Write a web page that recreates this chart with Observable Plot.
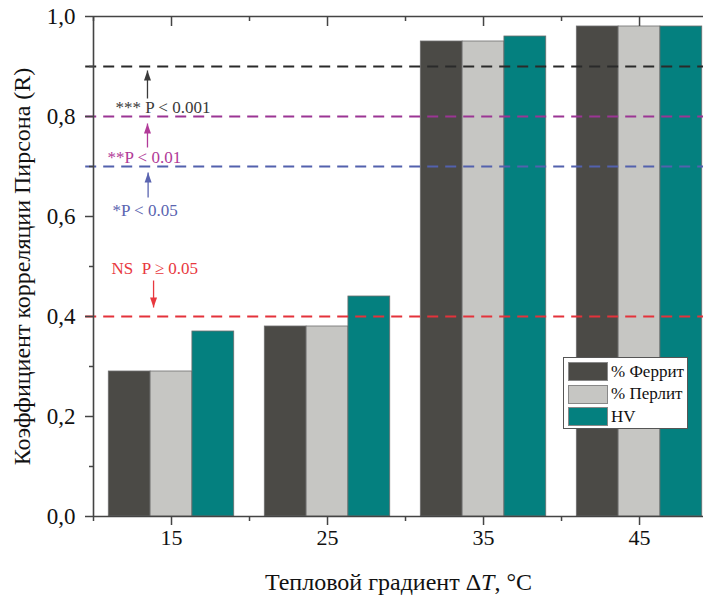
<!DOCTYPE html>
<html><head><meta charset="utf-8">
<script src="https://cdn.jsdelivr.net/npm/d3@7"></script>
<script src="https://cdn.jsdelivr.net/npm/@observablehq/plot@0.6"></script>
<style>
body{margin:0;background:#fff;}
#wrap{position:relative;width:703px;height:597px;}
#wrap svg text{font-family:'Liberation Serif','Times New Roman',serif;}
#legend{position:absolute;left:563px;top:357px;width:123px;height:70px;border:1px solid #555;background:#fff;font-family:'Liberation Serif','Times New Roman',serif;font-size:17px;color:#111;}
.row{position:absolute;left:4px;height:19px;display:flex;align-items:center;white-space:nowrap;}
.sw{width:40px;height:19px;box-sizing:border-box;border:1px solid #888;margin-right:3px;}
</style></head><body><div id="wrap"></div>
<script>
// ---- data ----
const temps = [15, 25, 35, 45];
const seriesNames = ["% Феррит", "% Перлит", "HV"];
const ferrite = [0.29, 0.38, 0.95, 0.98];
const pearlite = [0.29, 0.38, 0.95, 0.98];
const hv = [0.37, 0.44, 0.96, 0.98];
const seriesColors = ["#4b4a46", "#c6c6c3", "#04807f"];

const yTicks = [0, 0.2, 0.4, 0.6, 0.8, 1.0];
const yTickLabels = ["0,0", "0,2", "0,4", "0,6", "0,8", "1,0"];
const yMinor = [0.1, 0.3, 0.5, 0.7, 0.9];
const xTicks = [15, 25, 35, 45];
const xMinor = [10, 20, 30, 40];

const thresholds = [0.9, 0.8, 0.7, 0.4];
const thresholdColors = ["#2a2a2a", "#9b3594", "#5361ad", "#e4323b"];
const annotLabels = ["*** P < 0.001", "**P < 0.01", "*P < 0.05", "NS\u00a0\u00a0P \u2265 0.05"];
const annotColors = ["#3a3a3a", "#b13a98", "#5a64b0", "#e8383e"];
const annotX = [11.41, 10.9, 11.22, 11.15];
const annotY = [0.818, 0.718, 0.612, 0.496];
const arrowX = [13.46, 13.46, 13.5, 13.85];
const arrowFrom = [0.836, 0.738, 0.638, 0.472];
const arrowTo = [0.892, 0.786, 0.688, 0.418];

const xTitle = "Тепловой градиент ΔT, °C";
const yTitle = "Коэффициент корреляции Пирсона (R)";

// ---- build tables ----
const seriesValues = [ferrite, pearlite, hv];
const bars = [];
temps.forEach((t, j) => seriesValues.forEach((vals, i) => bars.push({temp: t, idx: i, value: vals[j], color: seriesColors[i]})));
const lines = thresholds.map((y, i) => ({y, color: thresholdColors[i]}));
const annots = annotLabels.map((text, i) => ({text, x: annotX[i], y: annotY[i], color: annotColors[i]}));
const arrows = arrowX.map((x, i) => ({x, y1: arrowFrom[i], y2: arrowTo[i], color: annotColors[i], up: arrowTo[i] > arrowFrom[i]}));

const barW = 2.68;
const serif = "'Liberation Serif','Times New Roman',serif";
const axisColor = "#444";

const headSymbol = {draw(ctx) { ctx.moveTo(0, 0); ctx.lineTo(-3.5, 10); ctx.lineTo(3.5, 10); ctx.closePath(); }};

const chart = Plot.plot({
  width: 703, height: 597,
  marginLeft: 93, marginRight: 0, marginTop: 16, marginBottom: 81,
  style: `font-family: ${serif}; background: #fff; color: #111;`,
  x: {domain: [10, 49.1], axis: null},
  y: {domain: [0, 1], axis: null},
  color: {type: "identity"},
  marks: [
    Plot.rectY(bars, {
      x1: d => d.temp + (d.idx - 1.5) * barW,
      x2: d => d.temp + (d.idx - 0.5) * barW,
      y1: 0, y2: "value", fill: "color", stroke: "#6e6e6e", strokeWidth: 0.8
    }),
    Plot.ruleY(lines, {y: "y", x1: 9.5, x2: 49.1, stroke: "color", strokeWidth: 2, strokeDasharray: "11,7"}),
    Plot.link(arrows, {x1: "x", x2: "x", y1: "y1", y2: "y2", stroke: "color", strokeWidth: 1.3}),
    Plot.dot(arrows, {x: "x", y: "y2", symbol: headSymbol, fill: "color", stroke: null, rotate: d => d.up ? 0 : 180}),
    Plot.text(annots, {x: "x", y: "y", text: "text", fill: "color", textAnchor: "start", fontSize: 17, fontFamily: serif}),
    Plot.ruleY([1], {stroke: axisColor, strokeWidth: 1.6}),
    Plot.ruleY([0], {stroke: axisColor, strokeWidth: 1.6}),
    Plot.ruleX([10], {stroke: axisColor, strokeWidth: 1.6}),
    Plot.axisY(yTicks, {tickSize: 8, tickPadding: 10, fontSize: 23, fontFamily: serif, label: null, stroke: axisColor, fill: "#111", strokeWidth: 1.5,
      tickFormat: d => yTickLabels[yTicks.indexOf(d)]}),
    Plot.axisY(yMinor, {tickSize: 4, label: null, stroke: axisColor, strokeWidth: 1.5, tickFormat: () => ""}),
    Plot.axisX(xTicks, {tickSize: 9, tickPadding: 4, fontSize: 22, fontFamily: serif, label: null, stroke: axisColor, fill: "#111", strokeWidth: 1.5, tickFormat: d => String(d)}),
    Plot.axisX(xMinor, {tickSize: 5, label: null, stroke: axisColor, strokeWidth: 1.5, tickFormat: () => ""}),
    Plot.tickX(xTicks, {x: d => d, insetBottom: 490, stroke: axisColor, strokeWidth: 1.5}),
    Plot.tickX(xMinor, {x: d => d, insetBottom: 495, stroke: axisColor, strokeWidth: 1.5}),
    Plot.text([yTitle], {text: d => d, frameAnchor: "left", textAnchor: "middle", lineAnchor: "middle", rotate: -90, dx: -71, fontSize: 24, fontFamily: serif, fill: "#111"}),
    Plot.text([xTitle], {text: d => d, frameAnchor: "bottom", textAnchor: "middle", lineAnchor: "middle", dy: 66, fontSize: 24, fontFamily: serif, fill: "#111"})
  ]
});

const wrap = document.getElementById("wrap");
wrap.appendChild(chart);

// italic T in the x title
d3.select(chart).selectAll("text").each(function() {
  if (this.textContent === xTitle) {
    const parts = xTitle.split("ΔT");
    const t = d3.select(this);
    t.text(null);
    t.append("tspan").text(parts[0] + "Δ");
    t.append("tspan").attr("font-style", "italic").text("T");
    t.append("tspan").text(parts[1]);
  }
});

// legend (inside the plot area, as in the original)
const legend = document.createElement("div");
legend.id = "legend";
seriesNames.forEach((name, i) => {
  const row = document.createElement("div");
  row.className = "row";
  row.style.top = (4 + i * 22.5) + "px";
  const sw = document.createElement("div");
  sw.className = "sw";
  sw.style.background = seriesColors[i];
  const lab = document.createElement("span");
  lab.textContent = name;
  row.appendChild(sw); row.appendChild(lab);
  legend.appendChild(row);
});
wrap.appendChild(legend);
</script>
</body></html>
